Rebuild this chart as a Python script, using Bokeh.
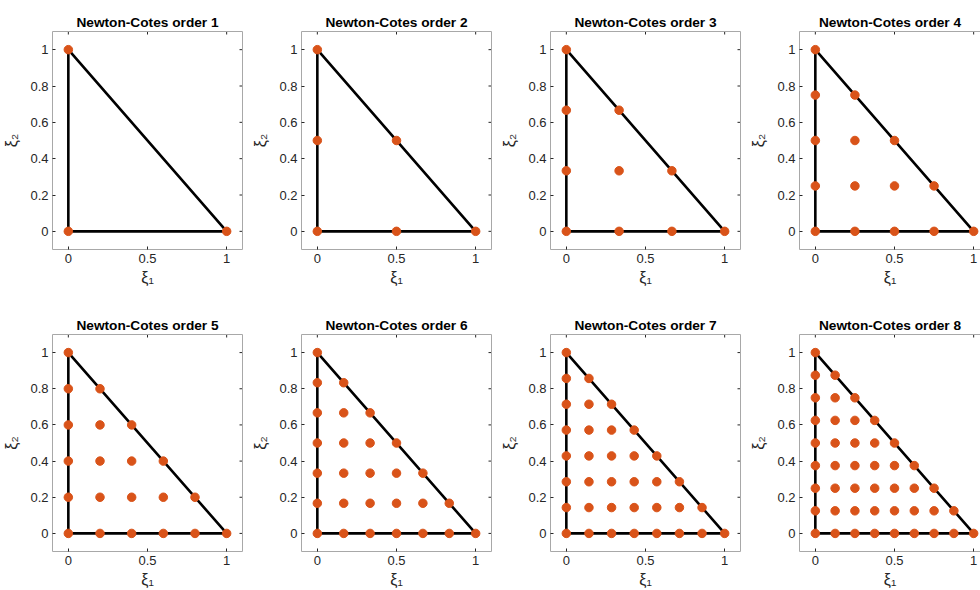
from bokeh.plotting import figure
from bokeh.models import Range1d, LinearAxis, FixedTicker
from bokeh.layouts import column, row
from bokeh.embed import file_html
from bokeh.resources import INLINE

# ---- data ----
orders = [1, 2, 3, 4, 5, 6, 7, 8]
levels_1 = [0, 1]
levels_2 = [0, 0.5, 1]
levels_3 = [0, 0.3333, 0.6667, 1]
levels_4 = [0, 0.25, 0.5, 0.75, 1]
levels_5 = [0, 0.2, 0.4, 0.6, 0.8, 1]
levels_6 = [0, 0.1667, 0.3333, 0.5, 0.6667, 0.8333, 1]
levels_7 = [0, 0.1429, 0.2857, 0.4286, 0.5714, 0.7143, 0.8571, 1]
levels_8 = [0, 0.125, 0.25, 0.375, 0.5, 0.625, 0.75, 0.875, 1]
all_levels = [levels_1, levels_2, levels_3, levels_4,
              levels_5, levels_6, levels_7, levels_8]

tri_x = [0, 1, 0, 0]
tri_y = [0, 0, 1, 0]

x_ticks = [0, 0.5, 1]
y_ticks = [0, 0.2, 0.4, 0.6, 0.8, 1]
x_label = "ξ₁"
y_label = "ξ₂"
title_fmt = "Newton-Cotes order {}"

# ---- styling ----
FONT = "Liberation Sans"
AX_COLOR = "#a8a8a8"
TXT_COLOR = "#262626"
DOT_COLOR = "#D95319"
Y0, Y1 = -0.1, 1.1
UNIT_X = 190 / 1.2
UNIT_Y = 218 / 1.2
TICK_PX = 3


def node_points(levels):
    n = len(levels) - 1
    xs, ys = [], []
    for j in range(n + 1):
        for i in range(n + 1 - j):
            xs.append(levels[i])
            ys.append(levels[j])
    return xs, ys


def style_axis(ax, ticks):
    ax.ticker = FixedTicker(ticks=ticks)
    ax.axis_line_color = AX_COLOR
    ax.axis_line_width = 1
    ax.major_tick_line_color = TXT_COLOR
    ax.major_tick_in = TICK_PX
    ax.major_tick_out = 0
    ax.minor_tick_line_color = None
    ax.major_label_text_font = FONT
    ax.major_label_text_font_size = "13px"
    ax.major_label_text_color = TXT_COLOR
    ax.major_label_standoff = 4


def plain_axis():
    ax = LinearAxis(ticker=FixedTicker(ticks=[]))
    ax.axis_line_color = AX_COLOR
    ax.axis_line_width = 1
    ax.major_tick_line_color = None
    ax.minor_tick_line_color = None
    ax.major_label_standoff = 0
    return ax


def make_panel(k, width, height, bottom, last):
    order = orders[k]
    frame_w = width - 52 - (0 if last else 7)
    x_end = -0.1 + frame_w / UNIT_X
    p = figure(width=width, height=height,
               x_range=Range1d(-0.1, x_end), y_range=Range1d(Y0, Y1),
               output_backend="svg", toolbar_location=None,
               min_border_left=52, min_border_right=(0 if last else 7),
               min_border_top=31, min_border_bottom=bottom,
               outline_line_color=None, background_fill_color="white",
               border_fill_color="white")
    p.grid.visible = False
    p.title.text = title_fmt.format(order)
    p.title.align = "center"
    p.title.text_font = FONT
    p.title.text_font_style = "bold"
    p.title.text_font_size = "13.7px"
    p.title.text_color = "black"
    p.title.standoff = 3

    style_axis(p.xaxis[0], x_ticks)
    style_axis(p.yaxis[0], y_ticks)
    p.xaxis[0].axis_label = x_label
    p.yaxis[0].axis_label = y_label
    for ax in (p.xaxis[0], p.yaxis[0]):
        ax.axis_label_text_font = FONT
        ax.axis_label_text_font_size = "16px"
        ax.axis_label_text_font_style = "normal"
        ax.axis_label_text_color = TXT_COLOR
    p.xaxis[0].axis_label_standoff = 3
    p.yaxis[0].axis_label_standoff = 7

    p.add_layout(plain_axis(), "above")
    # mirrored inward ticks on the top edge
    p.segment(x0=x_ticks, y0=[Y1] * len(x_ticks), x1=x_ticks,
              y1=[Y1 - TICK_PX / UNIT_Y] * len(x_ticks),
              line_color=TXT_COLOR, line_width=1)
    if not last:
        p.add_layout(plain_axis(), "right")
        p.segment(x0=[x_end] * len(y_ticks), y0=y_ticks,
                  x1=[x_end - TICK_PX / UNIT_X] * len(y_ticks), y1=y_ticks,
                  line_color=TXT_COLOR, line_width=1)

    p.line(tri_x, tri_y, line_color="black", line_width=2.6)
    xs, ys = node_points(all_levels[k])
    p.scatter(xs, ys, size=8.5, fill_color=DOT_COLOR, line_color=DOT_COLOR)
    return p


widths = [249, 249, 249, 233]
rows = []
for r, (h, b) in enumerate([(303, 54), (287, 38)]):
    panels = []
    for c in range(4):
        k = r * 4 + c
        panels.append(make_panel(k, widths[c], h, b, c == 3))
    rows.append(row(*panels))

layout = column(*rows)
open("out.html", "w").write(file_html(layout, INLINE))
